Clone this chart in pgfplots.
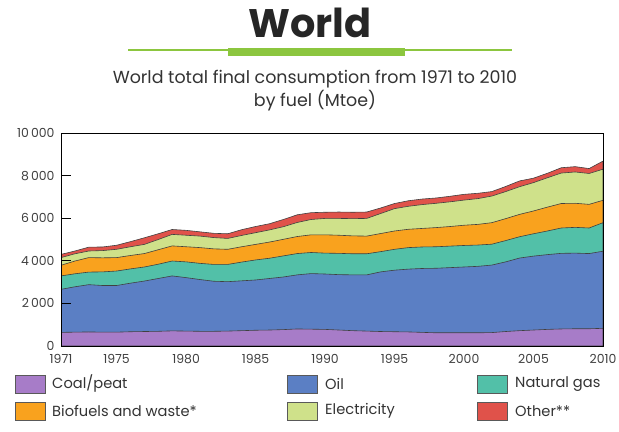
\documentclass[border=0pt]{standalone}
\usepackage{fontspec}
\setmainfont{Poppins}
\usepackage{pgfplots}
\usepackage{pgfplotstable}
\pgfplotsset{compat=1.18}

\definecolor{coalc}{HTML}{A77CC8}
\definecolor{oilc}{HTML}{5B7FC4}
\definecolor{gasc}{HTML}{52C0A8}
\definecolor{bioc}{HTML}{F9A21E}
\definecolor{elecc}{HTML}{CFE18A}
\definecolor{otherc}{HTML}{E0524A}
\definecolor{titlegreen}{HTML}{8CC63F}

% cumulative tops of the stacked layers (Mtoe)
\pgfplotstableread{
year C O G B E T
1971 640 2660 3290 3790 4150 4300
1972 650 2780 3390 3990 4330 4460
1973 660 2880 3470 4150 4460 4640
1974 650 2840 3480 4140 4480 4650
1975 650 2840 3520 4150 4540 4730
1976 670 2950 3620 4250 4660 4900
1977 680 3050 3710 4340 4770 5080
1978 690 3170 3840 4520 5000 5270
1979 710 3290 3990 4700 5240 5470
1980 700 3210 3950 4660 5200 5430
1981 690 3120 3880 4620 5160 5360
1982 690 3040 3830 4560 5090 5290
1983 700 3020 3830 4540 5050 5270
1984 720 3060 3940 4660 5190 5460
1985 740 3100 4040 4770 5320 5610
1986 750 3170 4120 4880 5450 5740
1987 770 3240 4230 5010 5600 5940
1988 800 3340 4340 5140 5800 6160
1989 790 3400 4390 5220 5940 6260
1990 780 3380 4360 5220 5990 6280
1991 750 3350 4350 5200 5990 6290
1992 720 3340 4330 5170 5980 6280
1993 700 3340 4330 5160 5990 6290
1994 680 3480 4430 5280 6220 6480
1995 670 3560 4540 5400 6450 6690
1996 660 3610 4620 5480 6560 6820
1997 640 3640 4650 5520 6640 6900
1998 620 3650 4660 5560 6700 6950
1999 620 3680 4690 5610 6770 7030
2000 620 3710 4720 5670 6850 7120
2001 620 3740 4740 5710 6920 7170
2002 630 3800 4780 5790 7040 7250
2003 680 3950 4950 5980 7250 7490
2004 720 4130 5130 6180 7480 7750
2005 750 4220 5270 6340 7670 7880
2006 780 4290 5400 6520 7900 8110
2007 800 4350 5540 6690 8120 8370
2008 810 4360 5570 6700 8170 8420
2009 810 4340 5540 6650 8100 8330
2010 830 4450 5790 6840 8300 8680
}\data

\begin{document}
\begin{tikzpicture}
\useasboundingbox (0,0) rectangle (619bp,-432bp);

% title block
\node[font=\fontsize{40}{42}\selectfont\bfseries, text=black!85] at (310bp,-23bp) {World};
\fill[titlegreen] (128bp,-49bp) rectangle (512bp,-51bp);
\fill[titlegreen] (228bp,-48bp) rectangle (405bp,-56bp);
\node[align=center, font=\fontsize{17.5}{23}\selectfont, text=black!80] at (315bp,-91bp)
  {World total final consumption from 1971 to 2010\\by fuel (Mtoe)};

\begin{axis}[
    at={(61bp,-346bp)}, anchor=south west,
    scale only axis, width=542bp, height=213bp,
    xmin=1971, xmax=2010, ymin=0, ymax=10000,
    axis on top,
    axis line style={black, line width=0.9pt},
    xtick={1971,1975,1980,1985,1990,1995,2000,2005,2010},
    xticklabels={1971,1975,1980,1985,1990,1995,2000,2005,2010},
    minor xtick={1971,...,2010},
    xtick style={draw=none},
    ytick={0,2000,4000,6000,8000,10000},
    yticklabels={0,2\,000,4\,000,6\,000,8\,000,10\,000},
    scaled y ticks=false,
    xtick pos=bottom, ytick pos=left,
    tick align=inside,
    major tick length=10bp, minor tick length=4bp,
    tick style={black, line width=0.8pt},
    minor tick style={black, line width=0.8pt},
    /pgf/number format/assume math mode=true,
    tick label style={font=\fontsize{12.5}{14}\selectfont, text=black!75},
    xticklabel style={yshift=-5bp},
    yticklabel style={xshift=-3bp},
]
\addplot[fill=otherc, draw=black!75, line width=0.6pt] table[x=year, y=T] {\data} \closedcycle;
\addplot[fill=elecc, draw=black!75, line width=0.6pt] table[x=year, y=E] {\data} \closedcycle;
\addplot[fill=bioc, draw=black!75, line width=0.6pt] table[x=year, y=B] {\data} \closedcycle;
\addplot[fill=gasc, draw=black!75, line width=0.6pt] table[x=year, y=G] {\data} \closedcycle;
\addplot[fill=oilc, draw=black!75, line width=0.6pt] table[x=year, y=O] {\data} \closedcycle;
\addplot[fill=coalc, draw=black!75, line width=0.6pt] table[x=year, y=C] {\data} \closedcycle;
\end{axis}

% legend
\tikzset{lbox/.style={draw=black!65, line width=0.7pt, minimum width=30bp, minimum height=18bp, inner sep=0pt, anchor=west},
         ltxt/.style={anchor=west, font=\fontsize{14.7}{16}\selectfont, text=black!80, inner sep=0pt}}
\node[lbox, fill=coalc] at (15bp,-384bp) {};
\node[ltxt] at (52bp,-384bp) {Coal/peat};
\node[lbox, fill=bioc] at (15bp,-411bp) {};
\node[ltxt] at (52bp,-411bp) {Biofuels and waste*};
\node[lbox, fill=oilc] at (287bp,-384bp) {};
\node[ltxt] at (325bp,-384bp) {Oil};
\node[lbox, fill=elecc] at (287bp,-411bp) {};
\node[ltxt] at (325bp,-411bp) {Electricity};
\node[lbox, fill=gasc] at (477bp,-384bp) {};
\node[ltxt] at (515bp,-384bp) {Natural gas};
\node[lbox, fill=otherc] at (477bp,-411bp) {};
\node[ltxt] at (515bp,-411bp) {Other**};
\end{tikzpicture}
\end{document}
